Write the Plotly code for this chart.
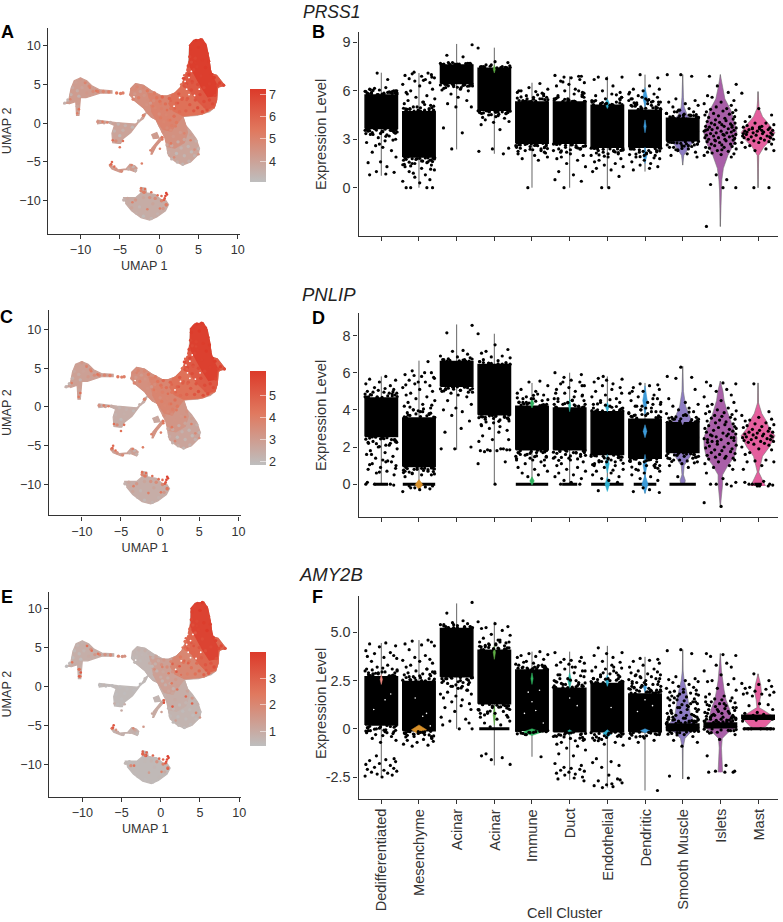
import plotly.graph_objects as go

FONT = "Liberation Sans"
TXT = "#333333"
W, H = 783, 922

CLUSTERS = ["Dedifferentiated", "Mesenchyme", "Acinar", "Acinar", "Immune", "Duct",
            "Endothelial", "Dendritic", "Smooth Muscle", "Islets", "Mast"]
CLUSTER_COLORS = ["#F08A80", "#D8912A", "#A9A531", "#5FAE45", "#2FB35F", "#2BB5A0",
                  "#2FB0D0", "#3D9BD9", "#8D7CC3", "#A95FA8", "#E55F9E"]
JITTER = [0.12, -0.31, 0.38, -0.05, -0.41, 0.24, -0.18, 0.33, -0.37, 0.07, 0.41, -0.26, 0.17,
          -0.11, 0.29, -0.43, 0.02, 0.36, -0.22, -0.34, 0.21, -0.08, 0.42, -0.29, 0.1, -0.39,
          0.31, -0.15, 0.04, 0.27, -0.24, 0.39, -0.02, -0.35, 0.15, -0.13, 0.34]

# ---- UMAP regions (UMAP 1, UMAP 2 outlines)
MASS_X = [3.8, 4.4, 5.5, 6.0, 6.3, 6.5, 6.6, 7.3, 7.8, 8.3, 7.6, 7.4, 7.3, 7.0, 6.4, 5.5, 4.8, 3.0, 3.4, 4.0, 4.7, 5.1, 5.0, 4.0, 3.0, 2.0, 1.2, 1.0, 0.9, 0.5, 0.0, -0.4, -1.0, -1.5, -2.0, -3.2, -3.7, -3.6, -3.0, -2.0, -1.0, 0.3, 1.0, 2.0, 2.7, 3.0, 3.3, 3.6]
MASS_Y = [10.0, 10.7, 10.85, 10.0, 8.5, 7.0, 6.4, 6.2, 5.6, 4.9, 4.7, 4.5, 3.0, 2.0, 1.5, 1.2, 1.0, 0.9, -0.3, -1.0, -2.0, -3.2, -4.0, -5.0, -5.4, -4.9, -4.2, -3.3, -2.0, -1.0, -0.4, 0.5, 0.8, 1.3, 2.0, 3.0, 3.6, 4.5, 5.1, 4.9, 4.2, 3.5, 3.5, 3.9, 4.6, 5.3, 6.0, 7.0]
ARM_X = [-3.7, -3.6, -3.0, -2.0, -1.0, 0.3, 1.0, 1.0, -0.4, -1.0, -1.5, -2.0, -3.2]
ARM_Y = [3.6, 4.5, 5.1, 4.9, 4.2, 3.5, 3.5, 1.0, 0.5, 0.8, 1.3, 2.0, 3.0]
LOWMID_X = [-1.0, -0.4, 0.2, 0.7, 1.0, 2.0, 3.2, 3.6, 3.4, 3.0, 1.5]
LOWMID_Y = [0.8, 0.5, -0.8, -1.8, -3.0, -3.2, -2.5, -1.2, -0.3, 0.9, 1.5]
CENTER_X = [-1.5, 0.3, 1.0, 2.0, 2.7, 3.0, 7.0, 7.3, 7.0, 5.5, 3.0, 2.5, 1.5, 0.5, -0.4, -1.0]
CENTER_Y = [3.9, 3.5, 3.5, 3.9, 4.6, 5.3, 5.0, 3.0, 2.0, 1.2, 0.9, 0.3, -1.0, -0.8, 0.5, 1.6]
RIGHT_X = [1.5, 2.0, 2.7, 3.0, 3.3, 7.0, 7.4, 7.3, 7.0, 5.5, 3.0, 1.8, 1.2]
RIGHT_Y = [3.6, 3.9, 4.6, 5.3, 6.0, 6.0, 4.5, 3.0, 2.0, 1.2, 1.0, 1.6, 2.6]
SHOULDER_X = [3.0, 3.3, 3.6, 3.8, 5.0, 6.3, 6.5, 6.6, 7.3, 7.8, 8.3, 7.6, 7.4, 7.3, 7.0, 6.0, 5.0, 4.0]
SHOULDER_Y = [4.8, 6.0, 7.0, 8.0, 8.5, 8.5, 7.0, 6.4, 6.2, 5.6, 4.9, 4.7, 4.5, 3.0, 2.1, 1.8, 2.8, 4.0]
TOP_X = [3.8, 4.4, 5.5, 6.0, 6.3, 6.5, 6.8, 7.3, 7.2, 6.2, 5.3, 4.6, 3.9, 3.8]
TOP_Y = [10.0, 10.7, 10.85, 10.0, 8.5, 7.0, 6.0, 5.0, 3.6, 3.4, 4.8, 6.2, 7.4, 8.0]
UPLEFT_X = [-12.2, -11.5, -11.2, -10.8, -10.0, -9.2, -8.5, -7.5, -6.0, -6.0, -7.5, -8.5, -9.3, -10.0, -10.1, -10.2, -10.5, -10.6, -11.5]
UPLEFT_Y = [2.5, 2.9, 4.5, 5.5, 5.85, 5.5, 4.8, 4.3, 4.2, 3.9, 3.9, 3.6, 3.3, 3.3, 2.5, 1.0, 1.0, 2.8, 2.5]
BRIDGE_X = [-7.9, -5.5, -3.0, -2.0, -1.6, -1.9, -2.7, -3.6, -4.6, -4.9, -5.2, -5.9, -6.0, -5.7, -6.5, -7.9]
BRIDGE_Y = [0.4, 0.1, -0.1, 0.6, 1.4, 1.2, 0.0, -1.2, -2.0, -2.6, -2.6, -2.5, -1.3, -0.3, 0.1, -0.1]
ISLAND_X = [-6.3, -6.0, -5.0, -4.5, -3.8, -3.0, -2.8, -3.1, -3.7, -4.2, -5.2, -5.9, -6.1]
ISLAND_Y = [-5.5, -5.9, -6.3, -6.0, -6.0, -6.3, -5.8, -5.5, -5.3, -5.9, -6.0, -5.7, -5.2]
STRAND_X = [-1.1, -0.9, -0.4, 0.5, 0.3, -0.5, -1.0]
STRAND_Y = [-4.0, -4.0, -3.0, -1.9, -1.7, -2.6, -3.3]
NUB_X = [-1.0, -0.3, 0.0, -0.8]
NUB_Y = [-1.5, -1.2, -1.9, -2.0]
BOTTOM_X = [-4.6, -3.0, -2.3, -2.3, -1.7, -1.6, -0.5, 0.3, 0.8, 1.2, 0.8, -0.3, -1.2, -2.3, -3.5, -4.3]
BOTTOM_Y = [-9.6, -9.6, -9.0, -8.3, -8.4, -9.0, -9.2, -9.9, -9.9, -10.5, -11.3, -12.1, -12.5, -12.2, -11.3, -10.3]

REGIONS_X = [MASS_X, UPLEFT_X, BRIDGE_X, ISLAND_X, STRAND_X, NUB_X, BOTTOM_X, ARM_X, LOWMID_X, CENTER_X, RIGHT_X, SHOULDER_X, TOP_X]
REGIONS_Y = [MASS_Y, UPLEFT_Y, BRIDGE_Y, ISLAND_Y, STRAND_Y, NUB_Y, BOTTOM_Y, ARM_Y, LOWMID_Y, CENTER_Y, RIGHT_Y, SHOULDER_Y, TOP_Y]
LEVELS_PRSS1 = [3.9, 4.2, 3.95, 4.2, 4.5, 4.2, 3.65, 4.6, 4.55, 5.0, 5.6, 6.3, 7.1]
LEVELS_PNLIP = [2.7, 2.85, 2.4, 2.85, 3.3, 2.6, 2.4, 3.4, 3.2, 3.75, 4.4, 5.1, 5.9]
LEVELS_AMY2B = [0.75, 0.9, 0.6, 0.85, 1.0, 0.7, 0.6, 0.7, 0.9, 1.3, 2.0, 2.9, 3.75]

SPECK_X = [0.9, 1.0, 0.8, 0.7, 0.6, 0.3, -0.2, -1.0, -1.8, -2.3, -2.0, -3.4, -1.5, 0.1, 0.9, 2.4, 3.0, 1.5, 2.0, 2.6, 3.5, 4.2, 1.0, 0.2, -0.8, 1.4, 2.1, 3.2, 4.0, 4.5, 5.0, 5.8, 3.4, 3.9, 4.6, 3.2, 2.8, -6.0, -6.1, -5.7, -3.5, -5.0, -4.6, -7.2, -6.6, -5.9, -10.4, -10.2, -9.4, -8.8, -8.0, -11.3, -2.2, -1.1, 0.4, -3.0, 1.5, 1.9, 0.4, 0.1]
SPECK_Y = [-9.0, -9.2, -9.4, -9.7, -9.9, -9.4, -9.3, -8.9, -8.5, -8.4, -8.9, -10.2, -11.1, -11.0, -10.6, 2.6, 3.3, 2.9, 1.9, 1.5, 3.0, 5.2, 1.7, 2.5, 2.2, 0.4, -0.4, -1.3, -2.2, -3.4, -4.0, 2.1, 4.9, 5.6, 7.8, 6.2, 5.0, -5.0, -5.3, -5.6, -5.4, -3.1, -2.3, 0.2, 0.1, -2.2, 1.3, 1.8, 5.2, 4.6, 4.2, 3.1, -5.2, -3.5, -2.1, 4.4, -2.6, -4.4, -1.8, -3.3]
SPECK_PRSS1 = [7.0, 6.9, 6.8, 6.5, 6.0, 5.8, 5.5, 5.6, 5.6, 5.4, 5.2, 5.0, 5.0, 5.2, 5.2, 6.3, 6.2, 5.9, 6.0, 5.8, 6.1, 6.6, 5.6, 5.2, 5.3, 5.4, 5.2, 5.0, 5.0, 4.6, 4.5, 6.4, 6.2, 6.5, 7.1, 6.0, 5.6, 5.8, 5.9, 5.6, 5.0, 5.5, 5.6, 5.2, 5.0, 5.6, 5.2, 5.5, 5.0, 5.0, 5.4, 5.0, 5.1, 4.9, 5.4, 4.8, 5.3, 4.7, 5.5, 5.0]
SPECK_PNLIP = [5.9, 5.8, 5.7, 5.3, 5.0, 4.7, 4.5, 4.5, 4.6, 4.4, 4.2, 4.0, 4.0, 4.2, 4.2, 5.1, 5.0, 4.8, 4.8, 4.6, 4.9, 5.3, 4.5, 4.2, 4.2, 4.3, 4.2, 4.0, 4.0, 3.6, 3.4, 5.2, 5.0, 5.2, 5.7, 4.8, 4.5, 4.7, 4.8, 4.5, 4.0, 4.4, 4.5, 4.1, 4.0, 4.5, 4.1, 4.4, 3.9, 4.0, 4.3, 4.0, 4.0, 3.9, 4.3, 3.8, 4.2, 3.7, 4.4, 3.9]
SPECK_AMY2B = [3.9, 3.8, 3.7, 3.5, 3.2, 3.0, 2.8, 2.9, 3.0, 3.0, 2.6, 2.6, 1.4, 2.2, 3.0, 3.2, 2.9, 3.0, 3.2, 2.6, 3.0, 3.4, 2.4, 2.2, 1.8, 2.4, 2.6, 2.8, 3.0, 2.2, 1.6, 3.2, 3.1, 3.2, 3.7, 2.9, 2.6, 3.2, 3.3, 1.6, 1.9, 1.0, 0.9, 0.7, 0.6, 0.9, 3.0, 3.2, 2.6, 2.6, 2.5, 2.4, 1.5, 1.1, 3.4, 0.7, 3.2, 1.3, 3.0, 1.3]

# Grain of the UMAP clouds: position and place on the colour bar (0 bottom, 1 top)
GRAIN_X = [-3.4, -3.1, -2.8, -2.4, -2.6, -2, -1.9, -1.5, -1.4, -1, -1.1, -0.6, -0.7, -0.3, -0.5, -1.6, -3.6, -3.3,
           0.1, 0.4, 0.3, 0.8, 0.9, 1.3, 1.5, 0.2, 0.6, 1.2, 1.9, 2.2, 2.5, 2.6, 2.9, 0.0, 1.0, 1.6, 2.2, 0.5,
           3.2, 3.6, 3.4, 3.9, 4.1, 4.4, 4.6, 4.9, 5.2, 5.5, 5.7, 6.1, 6.4, 6.8, 7.1, 3.1, 3.5, 3.8, 4.2, 4.4, 3.7, 4.9, 5.3, 5.7, 6.4, 7, 7.7, 8.2, 7.4, 6.7,
           4.0, 3.9, 4.3, 4.7, 5.3, 5.8, 6.1, 6.3, 5, 4.6, 5.5, 5.9, 4.8, 4.1,
           1, 1.2, 1.6, 2.3, 3, 3.8, 4.5, 5, 4.7, 4, 3.4, 2.7, 1.8, 2.4, 3.2, 1.6, 2.8, 3.7, 2.2, 3.2, 4.1, 1.5,
           -12, -11.6, -11.2, -11, -10.6, -10, -9.4, -8.9, -10.4, -9.8, -10.2, -9.2, -8.4, -7.8, -7.1, -6.4, -5.4, -4.9, -4.6, -10.3, -10.4,
           -7.8, -7, -6.2, -5.2, -4.3, -3.4, -2.6, -2, -5.7, -5, -5.5, -4.6,
           -6.2, -5.5, -4.8, -3.9, -3.3, -3,
           -4.5, -3.8, -3, -2.3, -2, -1.2, -0.5, 0.3, 0.9, 0.5, -0.2, -1, -2, -2.9, -3.5, -2.5, -1.5, -0.8, -4, -1.9]
GRAIN_Y = [4.4, 3.8, 4.7, 4.1, 3.3, 4.6, 3.6, 4.2, 3.0, 3.7, 2.6, 3.9, 2.9, 3.3, 2.0, 2.4, 3.7, 3.1,
           2.8, 3.4, 1.9, 2.5, 1.1, 3.2, 1.9, 0.7, 0.2, 0.4, 0.9, 2.6, 3.8, 1.5, 3.1, 1.2, -0.6, -0.3, 0.1, -1.1,
           4.8, 3.2, 1.6, 2.4, 4.3, 1.6, 3, 2, 3.7, 1.5, 2.8, 1.7, 3, 2.5, 3.6, 5.8, 5.1, 6.3, 5.4, 6.9, 7.4, 5, 6.1, 4.6, 5.1, 5.9, 5.2, 4.9, 4.9, 6.3,
           9.6, 8.6, 10.3, 10.7, 10.8, 10.2, 9, 8, 9.8, 8.4, 8.2, 7.2, 7.3, 7.9,
           -2.8, -3.8, -4.6, -5, -5.3, -4.9, -4.2, -3.3, -2.3, -1.5, -0.6, -1.2, -1.7, -2.4, -2.1, -2.9, -3.2, -3, -3.9, -4.2, -3.7, -0.9,
           2.6, 3, 3.7, 4.6, 5.3, 5.7, 5.3, 4.8, 4.2, 4.6, 3.5, 3.9, 4.1, 4.1, 4.1, 4.05, 3.9, 3.85, 3.9, 1.3, 2.2,
           0.2, 0.05, 0.1, -0.1, -0.3, -0.5, 0.3, 1, -1, -1.6, -2.3, -0.9,
           -5.4, -5.9, -6.2, -5.9, -5.6, -6.1,
           -9.9, -10.2, -9.9, -8.7, -9.6, -9.6, -9.7, -10, -10.5, -11, -11.7, -12.3, -12, -11.6, -10.9, -10.8, -11, -10.4, -9.7, -8.9]
GRAIN_T = [0.4, 0.3, 0.45, 0.28, 0.5, 0.42, 0.33, 0.55, 0.38, 0.48, 0.3, 0.52, 0.4, 0.58, 0.45, 0.35, 0.38, 0.46,
           0.6, 0.68, 0.5, 0.62, 0.45, 0.7, 0.58, 0.52, 0.45, 0.5, 0.62, 0.7, 0.78, 0.65, 0.75, 0.4, 0.42, 0.5, 0.55, 0.38,
           0.82, 0.75, 0.72, 0.78, 0.86, 0.8, 0.82, 0.85, 0.9, 0.86, 0.88, 0.86, 0.9, 0.88, 0.92, 0.9, 0.85, 0.92, 0.88, 0.92, 0.9, 0.88, 0.95, 0.9, 0.95, 0.98, 0.95, 0.9, 0.92, 0.97,
           0.98, 0.92, 0.97, 1, 0.98, 0.97, 0.96, 0.98, 1, 0.93, 0.98, 1, 0.95, 0.9,
           0.2, 0.15, 0.1, 0.12, 0.08, 0.1, 0.1, 0.08, 0.12, 0.25, 0.35, 0.3, 0.32, 0.15, 0.2, 0.18, 0.1, 0.08, 0.05, 0.08, 0.05, 0.4,
           0.1, 0.08, 0.12, 0.18, 0.25, 0.3, 0.35, 0.42, 0.15, 0.22, 0.1, 0.3, 0.4, 0.5, 0.45, 0.5, 0.55, 0.5, 0.5, 0.15, 0.2,
           0.35, 0.25, 0.15, 0.08, 0.1, 0.05, 0.12, 0.45, 0.1, 0.05, 0.4, 0.12,
           0.45, 0.35, 0.4, 0.15, 0.1, 0.12,
           0.1, 0.15, 0.3, 0.45, 0.2, 0.35, 0.4, 0.45, 0.55, 0.3, 0.1, 0.08, 0.05, 0.12, 0.2, 0.08, 0.15, 0.2, 0.18, 0.5]
GRAIN_T_AMY2B = [0.08, 0.05, 0.1, 0.06, 0.05, 0.12, 0.07, 0.1, 0.15, 0.1, 0.05, 0.2, 0.12, 0.16, 0.1, 0.07, 0.04, 0.05,
                 0.35, 0.3, 0.2, 0.4, 0.15, 0.45, 0.35, 0.1, 0.12, 0.15, 0.3, 0.5, 0.55, 0.35, 0.6, 0.15, 0.18, 0.1, 0.25, 0.1,
                 0.6, 0.55, 0.5, 0.6, 0.7, 0.6, 0.65, 0.65, 0.75, 0.7, 0.8, 0.75, 0.8, 0.85, 0.85, 0.6, 0.62, 0.7, 0.72, 0.8, 0.72, 0.8, 0.88, 0.85, 0.9, 0.95, 0.9, 0.85, 0.9, 0.95,
                 0.95, 0.9, 0.92, 0.95, 1, 0.95, 0.92, 0.96, 1, 0.9, 0.98, 1, 0.92, 0.85,
                 0.08, 0.05, 0.04, 0.05, 0.03, 0.04, 0.04, 0.03, 0.1, 0.3, 0.2, 0.12, 0.15, 0.05, 0.08, 0.06, 0.03, 0.05, 0.03, 0.04, 0.03, 0.2,
                 0.02, 0.03, 0.04, 0.05, 0.08, 0.1, 0.2, 0.35, 0.04, 0.08, 0.03, 0.15, 0.3, 0.4, 0.35, 0.4, 0.45, 0.35, 0.35, 0.5, 0.6,
                 0.02, 0.02, 0.02, 0.02, 0.02, 0.02, 0.02, 0.05, 0.02, 0.02, 0.02, 0.02,
                 0.55, 0.15, 0.1, 0.1, 0.2, 0.05,
                 0.05, 0.4, 0.03, 0.7, 0.05, 0.08, 0.35, 0.5, 0.6, 0.15, 0.05, 0.03, 0.03, 0.04, 0.05, 0.04, 0.04, 0.06, 0.03, 0.8]
GAP_X = [3.4, 3.8, 4.1, 3.3, 4.5, 3.8, 2.6, 5.1, -3.2, 3.5, 1.9]
GAP_Y = [6.7, 5.9, 6.7, 5.4, 3.6, 3.7, 3.3, 4.4, 3.4, 4.4, 2.2]

SCALE_STOPS = ["#BEBEBE", "#E0795F", "#DC3A2A"]
PRSS1_RANGE = [3.07, 7.24]
PNLIP_RANGE = [1.85, 6.1]
AMY2B_RANGE = [0.47, 3.99]
PRSS1_TICKS = [4, 5, 6, 7]
PNLIP_TICKS = [2, 3, 4, 5]
AMY2B_TICKS = [1, 2, 3]

# ---- Violin panels: dense body limits, line limits, stray points
PRSS1_LO = [3.67, 1.9, 6.45, 4.8, 2.75, 2.75, 2.5, 2.5, 2.9, None, None]
PRSS1_HI = [5.74, 4.7, 7.6, 7.4, 5.3, 5.3, 5.1, 4.8, 4.3, None, None]
PRSS1_VMIN = [0.74, 0.0, 2.37, 2.1, 0.0, 0.0, 0.0, 1.0, 1.4, -2.4, 0.0]
PRSS1_VMAX = [7.12, 7.1, 8.9, 8.67, 6.5, 6.9, 6.9, 7.0, 7.0, 7.0, 5.95]
PNLIP_LO = [2.57, 0.95, 5.27, 3.74, 1.85, 1.85, 1.6, 1.4, 1.7, None, None]
PNLIP_HI = [4.64, 3.56, 6.6, 6.44, 4.2, 4.1, 3.9, 3.5, 3.3, None, None]
PNLIP_VMIN = [0.0, -0.2, 1.85, 0.0, 0.0, 0.0, -0.3, -0.5, 0.0, -1.25, -0.1]
PNLIP_VMAX = [5.8, 6.65, 8.6, 8.1, 5.45, 6.0, 5.8, 5.45, 6.35, 5.55, 5.45]
AMY2B_LO = [0.2, -0.1, 2.7, 1.3, -0.07, -0.15, -0.15, -0.15, -0.1, 0.05, 0.5]
AMY2B_HI = [2.7, 2.45, 5.2, 4.07, 3.05, 2.1, 2.35, 1.8, 0.25, 0.3, 0.7]
AMY2B_VMIN = [-2.5, -0.3, 0.0, -1.9, -1.45, -2.66, -3.05, -3.2, -2.6, -2.25, 0.0]
AMY2B_VMAX = [4.45, 4.6, 6.5, 5.55, 4.0, 4.0, 4.3, 3.73, 4.1, 3.9, 2.85]
NO_ZERO = [0] * 11
PNLIP_ZERO = [0.18, 0.43, 0, 0, 0.43, 0.2, 0.43, 0.3, 0.35, 0, 0.1]
AMY2B_ZERO = [0, 0, 0, 0.4, 0, 0, 0, 0, 0, 0, 0.38]

PRSS1_SM_Y = [1.4, 2, 2.6, 3, 3.5, 4, 4.5, 5, 5.6, 7]
PRSS1_SM_W = [0, 0.03, 0.2, 0.35, 0.43, 0.3, 0.12, 0.04, 0.02, 0]
PRSS1_IS_Y = [-2.4, -1, -0.2, 0.5, 1.2, 2, 2.8, 3.4, 4, 4.8, 5.5, 6.3, 7]
PRSS1_IS_W = [0, 0.01, 0.02, 0.04, 0.08, 0.2, 0.38, 0.44, 0.38, 0.28, 0.12, 0.05, 0]
PRSS1_MA_Y = [0, 0.5, 1.2, 2, 2.5, 3, 3.4, 3.9, 4.4, 4.9, 5.4, 5.95]
PRSS1_MA_W = [0, 0.01, 0.01, 0.02, 0.15, 0.35, 0.45, 0.3, 0.12, 0.03, 0.01, 0]
PNLIP_SM_Y = [0, 0.2, 0.5, 1, 1.5, 2, 2.5, 3, 3.6, 4.2, 5, 6.35]
PNLIP_SM_W = [0.05, 0.07, 0.02, 0.04, 0.2, 0.35, 0.43, 0.38, 0.2, 0.08, 0.02, 0]
PNLIP_IS_Y = [-1.25, -0.5, 0, 0.5, 1, 1.5, 2, 2.5, 3, 3.5, 4, 4.5, 5, 5.55]
PNLIP_IS_W = [0, 0.03, 0.06, 0.06, 0.2, 0.38, 0.43, 0.44, 0.35, 0.25, 0.17, 0.1, 0.07, 0]
PNLIP_MA_Y = [-0.1, 0, 0.3, 0.65, 1, 1.5, 2, 2.6, 3, 3.4, 3.8, 4.4, 5.45]
PNLIP_MA_W = [0.2, 0.18, 0.1, 0.02, 0.06, 0.12, 0.3, 0.45, 0.3, 0.22, 0.1, 0.01, 0]
AMY2B_SM_Y = [-2.6, -1, -0.5, -0.2, 0.05, 0.4, 0.8, 1.3, 2, 2.5, 3, 4.1]
AMY2B_SM_W = [0, 0.01, 0.06, 0.2, 0.45, 0.3, 0.2, 0.16, 0.1, 0.04, 0.01, 0]
AMY2B_IS_Y = [-2.25, -1, -0.5, -0.2, 0.1, 0.5, 1, 1.5, 2, 2.5, 3, 3.9]
AMY2B_IS_W = [0.06, 0.03, 0.05, 0.2, 0.45, 0.3, 0.25, 0.15, 0.1, 0.06, 0.03, 0]
AMY2B_MA_Y = [0, 0.1, 0.3, 0.6, 0.9, 1.1, 1.5, 1.9, 2.3, 2.85]
AMY2B_MA_W = [0.02, 0.2, 0.3, 0.43, 0.2, 0.03, 0.05, 0.09, 0.07, 0]

# Coloured slivers of the violins that show through the black points
PRSS1_ACC_C = [3, 6, 7, 7, 7]
PRSS1_ACC_LO = [7.1, 4.9, 5.0, 1.5, 3.4]
PRSS1_ACC_HI = [7.6, 5.5, 6.2, 2.5, 4.2]
PRSS1_ACC_W = [0.03, 0.06, 0.06, 0.05, 0.03]
PNLIP_ACC_C = [1, 4, 4, 5, 6, 6, 6, 7, 7, 7, 7, 8]
PNLIP_ACC_LO = [-0.3, 4.1, -0.05, 3.9, 3.9, 0.6, -0.4, 3.7, 2.5, 0.4, -0.5, 3.2]
PNLIP_ACC_HI = [0.25, 4.6, 0.4, 4.6, 4.4, 1.6, 0.4, 5.3, 3.2, 1.6, 0.5, 4.2]
PNLIP_ACC_W = [0.1, 0.05, 0.06, 0.03, 0.05, 0.05, 0.06, 0.06, 0.05, 0.05, 0.08, 0.1]
AMY2B_ACC_C = [0, 1, 3, 3, 4, 4, 5, 5, 6, 6, 7, 7]
AMY2B_ACC_LO = [2.3, -0.3, 3.6, 0.2, 2.3, -0.35, 2.1, -0.3, 2.2, -0.45, 1.9, -0.2]
AMY2B_ACC_HI = [2.8, 0.2, 4.3, 1.2, 2.9, 0.0, 2.9, -0.05, 2.8, -0.05, 2.4, 0.0]
AMY2B_ACC_W = [0.03, 0.2, 0.03, 0.03, 0.03, 0.25, 0.05, 0.1, 0.05, 0.12, 0.04, 0.12]

AMY2B_GAP_C = [0.1, 0.25, -0.2, 1.2, 1.1, 0.9, 1.3, 3.9, 4.2, 4.0, 3.8, 4.3, 4.1, 5.2, 5.0, 6.1, 7.0, 7.2, 6.8]
AMY2B_GAP_V = [1.5, 1.8, 1.0, 0.8, 0.65, 1.6, 0.15, 1.9, 2.0, 1.4, 0.8, 0.3, 0.95, 1.2, 1.6, 1.1, 1.5, 1.2, 0.9]

PRSS1_PTS = [
    [6.2, 6.1, 6.0, 6.05, 5.95, 5.9, 6.15, 6.0, 5.85, 5.8, 6.0, 5.9, 6.7, 7.1, 5.95, 3.55, 3.5, 3.4, 3.3, 3.6, 3.2, 3.1, 3.45, 3.3, 2.9, 2.8, 2.95, 2.6, 2.5, 2.3, 2.2, 1.9, 1.6, 1.55, 1.3, 1.0, 0.95, 0.85, 0.8, 3.0, 2.7, 3.35, 3.55, 3.65, 3.6, 5.8, 5.85, 5.78, 5.82, 5.9, 5.76, 5.84, 5.97, 5.79, 5.88, 6.02, 5.81, 5.93, 5.77, 5.86, 6.08, 3.62, 3.58, 3.52, 3.63, 3.47, 3.55, 3.41, 3.6, 3.36, 3.5, 3.28, 3.57, 3.44, 3.18, 3.53, 3.38],
    [7.1, 7.05, 7.0, 6.95, 6.9, 6.8, 6.75, 6.7, 6.6, 6.5, 6.4, 6.3, 6.1, 6.0, 5.9, 5.7, 5.6, 5.5, 5.4, 5.3, 5.2, 5.1, 5.0, 4.95, 4.9, 4.85, 4.8, 4.8, 4.75, 4.8, 7.15, 6.85, 6.65, 5.8, 1.85, 1.8, 1.7, 1.6, 1.5, 1.4, 1.3, 1.2, 1.1, 1.0, 0.8, 0.65, 0.5, 0.4, 0.3, 0.0, 0.0, 0.0, 0.0, 1.75, 1.85, 1.9, 1.65, 1.45, 1.15, 0.9, 4.75, 4.82, 4.9, 5.05, 4.78, 4.88, 5.15, 4.74, 4.95, 5.3, 4.85, 4.76, 5.0, 4.92, 1.85, 1.8, 1.72, 1.86, 1.66, 1.78, 1.58, 1.84, 1.5, 1.7, 1.42, 1.82, 1.62, 1.35, 1.76, 1.55],
    [8.85, 8.2, 8.1, 7.75, 7.7, 7.7, 7.65, 7.7, 7.75, 7.65, 6.4, 6.35, 6.3, 6.2, 6.1, 6.05, 6.0, 5.8, 5.6, 5.4, 5.2, 5.0, 5.0, 3.7, 3.4, 2.4, 6.3, 6.2, 6.4, 7.63, 7.66, 7.62, 7.68, 7.64, 7.7, 7.62, 7.65, 6.42, 6.38, 6.33, 6.4, 6.28, 6.36, 6.22, 6.41, 6.31, 6.15, 6.37, 6.26],
    [8.65, 7.8, 7.75, 7.6, 7.5, 7.5, 7.6, 7.45, 7.5, 4.7, 4.65, 4.6, 4.5, 4.4, 4.3, 4.2, 4.1, 4.05, 3.9, 3.6, 4.7, 4.65, 4.55, 4.35, 2.45, 2.4, 2.25, 2.1, 4.75, 7.44, 7.48, 7.42, 7.55, 7.46, 7.43, 7.52, 7.45, 4.76, 4.72, 4.66, 4.77, 4.6, 4.7, 4.52, 4.74, 4.63, 4.46, 4.69, 4.58, 4.75, 4.67],
    [6.45, 6.2, 6.1, 6.0, 5.95, 5.9, 5.8, 5.7, 5.6, 5.5, 5.4, 5.3, 5.35, 6.0, 5.75, 5.5, 5.45, 2.7, 2.65, 2.6, 2.55, 2.5, 2.4, 2.3, 2.2, 2.1, 2.0, 1.9, 1.8, 1.7, 0.0, 2.75, 2.6, 2.35, 2.15, 5.34, 5.4, 5.5, 5.33, 5.45, 5.62, 5.36, 5.55, 5.7, 5.38, 5.48, 5.85, 5.35, 5.6, 2.71, 2.66, 2.6, 2.72, 2.52, 2.63, 2.45, 2.7, 2.38, 2.58, 2.3, 2.68, 2.48, 2.25, 2.62, 2.42],
    [6.95, 6.9, 6.85, 6.8, 6.7, 6.6, 6.5, 6.4, 6.3, 6.1, 6, 5.9, 5.8, 5.7, 5.6, 5.5, 5.4, 6.9, 6.55, 5.75, 5.5, 5.35, 5.35, 2.7, 2.6, 2.5, 2.4, 2.3, 2.1, 2, 1.9, 1.8, 1.7, 1.5, 1.3, 1.0, 0.8, 0.5, 0.4, 0, 2.65, 2.4, 2.2, 5.34, 5.42, 5.55, 5.33, 5.47, 5.7, 5.36, 5.6, 5.85, 5.38, 5.5, 6.0, 5.35, 5.65, 2.71, 2.66, 2.58, 2.72, 2.5, 2.63, 2.42, 2.7, 2.35, 2.56, 2.28, 2.68, 2.46, 2.2, 2.6, 2.4],
    [6.85, 6.85, 6.75, 6.7, 6.3, 6.0, 5.9, 5.8, 5.7, 5.6, 5.5, 5.4, 5.3, 5.2, 5.25, 5.15, 5.1, 2.45, 2.4, 2.3, 2.2, 2.1, 2, 1.9, 1.8, 1.7, 1.6, 1.5, 1.4, 1.3, 1.2, 1.1, 1.0, 0.7, 0, 0, 2.4, 2.3, 5.14, 5.22, 5.35, 5.13, 5.27, 5.45, 5.16, 5.4, 5.6, 5.18, 5.3, 5.75, 5.15, 5.5, 2.46, 2.41, 2.33, 2.47, 2.25, 2.38, 2.17, 2.45, 2.1, 2.31, 2.03, 2.43, 2.21, 1.95, 2.35, 2.15],
    [7, 6.8, 6.3, 6.1, 6.1, 6, 5.9, 5.8, 5.7, 5.6, 5.5, 5.4, 5.3, 5.2, 5.1, 5, 4.9, 5.8, 5.5, 5.3, 5.15, 5.05, 4.95, 4.9, 4.85, 5.25, 5.45, 2.4, 2.3, 2.2, 2.1, 2, 1.9, 1.8, 1.7, 1.6, 1.5, 1.4, 1.3, 1.2, 1.1, 2.45, 2.25, 2.05, 1.85, 4.85, 4.95, 5.1, 5.2, 4.9, 5.05, 5.3, 4.88, 5.0, 5.4, 4.92, 5.15, 5.25, 5.5, 5.35, 5.6, 2.45, 2.38, 2.3, 2.46, 2.22, 2.35, 2.15, 2.42, 2.08, 2.28, 2.0, 2.4, 2.18, 1.92],
    [7, 7, 6.9, 5.5, 5.4, 5.3, 5.2, 5.1, 5, 4.9, 4.8, 4.7, 4.6, 4.5, 4.4, 4.3, 4.2, 4.5, 4.45, 4.35, 4.3, 4.25, 4.2, 4.15, 4.7, 4.55, 2.9, 2.8, 2.7, 2.6, 2.5, 2.4, 2.3, 2.2, 2.1, 2, 1.9, 2.75, 2.65, 2.55, 2.35, 3.0, 2.95, 2.85, 4.35, 4.42, 4.5, 4.33, 4.47, 4.6, 4.36, 4.52, 4.7, 4.38, 4.45, 4.8, 2.86, 2.8, 2.72, 2.87, 2.65, 2.77, 2.58, 2.84, 2.5, 2.7, 2.43, 2.82, 2.6, 2.35],
    [-2.4, 0, 0, 0.2, 0.5, 0.8, 1.9, 2, 2.05, 2.1, 2.15, 2.2, 2.25, 2.3, 2.4, 2.45, 2.5, 2.5, 2.55, 2.6, 2.65, 2.7, 2.7, 2.75, 2.8, 2.85, 2.9, 2.9, 2.95, 3, 3, 3.05, 3.1, 3.1, 3.15, 3.2, 3.2, 3.25, 3.3, 3.3, 3.35, 3.4, 3.4, 3.45, 3.5, 3.5, 3.55, 3.6, 3.6, 3.65, 3.7, 3.7, 3.75, 3.8, 3.8, 3.85, 3.9, 3.9, 3.95, 4, 4, 4.05, 4.1, 4.15, 4.2, 4.25, 4.3, 4.35, 4.4, 4.45, 4.5, 4.55, 4.6, 4.65, 4.7, 4.75, 4.8, 4.85, 4.9, 5, 5.1, 5.2, 5.3, 5.4, 5.6, 5.7, 5.9, 6.3, 6.4, 6.9, 3.25, 3.55, 3.75, 2.95, 2.35],
    [0, 0, 5.85, 4.9, 4.5, 4.4, 4.1, 4.0, 4.0, 3.9, 3.85, 3.8, 3.75, 3.7, 3.7, 3.65, 3.6, 3.6, 3.55, 3.5, 3.5, 3.45, 3.4, 3.4, 3.35, 3.3, 3.3, 3.25, 3.2, 3.2, 3.15, 3.1, 3.1, 3.05, 3, 3, 2.95, 2.9, 2.85, 2.8, 2.8, 2.7, 2.6, 2.5, 2.4, 2.3, 2.3, 3.45, 3.55, 3.35, 3.15, 3.65, 3.75],
]
PNLIP_PTS = [
    [5.8, 5.65, 5.6, 5.5, 5.4, 5.3, 5.2, 5.1, 5, 4.95, 4.9, 4.8, 4.75, 4.7, 4.85, 4.7, 2.5, 2.4, 2.3, 2.2, 2.1, 2, 1.9, 1.8, 1.7, 1.6, 1.5, 1.4, 1.3, 1.2, 1.1, 1, 0.9, 0.8, 0.7, 0.6, 0.5, 1.2, 1.05, 0.85, 0.65, 0, 0, 0, -0.05, 0.1, 2.45, 2.25, 1.6, 1.25, 4.68, 4.75, 4.85, 4.67, 4.8, 4.95, 4.7, 4.9, 5.05, 4.72, 4.82, 5.15, 4.69, 4.98, 2.53, 2.47, 2.4, 2.54, 2.32, 2.44, 2.25, 2.5, 2.18, 2.38, 2.1, 2.48, 2.28, 2.02, 2.42, 2.2],
    [6.6, 6.1, 6, 5.9, 5.8, 5.7, 5.6, 5.5, 5.4, 5.3, 5.2, 5.1, 5, 4.9, 4.8, 4.7, 4.6, 4.5, 4.4, 4.3, 4.2, 4.1, 4, 3.9, 3.8, 3.7, 5.75, 5.5, 5.35, 6, 5.85, 4.25, 4.05, 3.85, 0.85, 0.8, 0.75, 0.7, 0.6, 0.5, 0.4, 0.85, 0.55, -0.1, -0.15, -0.2, -0.25, -0.4, -0.3, -0.1, -0.2, 3.6, 3.68, 3.78, 3.59, 3.72, 3.9, 3.62, 3.82, 4, 3.64, 3.75, 4.15, 3.61, 3.95, 0.9, 0.86, 0.8, 0.91, 0.74, 0.84, 0.68, 0.88, 0.62, 0.78, 0.56, 0.87, 0.7, 0.5, 0.82, 0.65],
    [8.55, 8.15, 7.2, 7.15, 7, 6.9, 6.85, 6.8, 6.75, 6.7, 6.7, 5.2, 5.15, 5.1, 5.05, 5, 4.95, 4.9, 4.8, 4.7, 4.5, 4.3, 4.1, 4, 3.9, 3.7, 3.4, 3, 2.8, 2, 1.9, 1.9, 6.63, 6.66, 6.62, 6.7, 6.64, 6.74, 6.62, 6.68, 5.23, 5.19, 5.13, 5.24, 5.08, 5.17, 5.02, 5.22, 5.11, 4.95, 5.15, 5.05],
    [8.1, 7.5, 7.25, 7.15, 7.05, 6.9, 6.85, 6.8, 6.7, 6.65, 6.6, 6.55, 6.5, 3.65, 3.6, 3.5, 3.4, 3.3, 3.2, 3.1, 3, 2.9, 2.8, 2.6, 2.4, 2.4, 2.3, 1.9, 1.85, 1.85, 1.8, 1.8, 1.85, 1.75, 1.9, 1.8, 1.2, 1.1, 0, 3.55, 3.35, 3.15, 6.47, 6.5, 6.46, 6.55, 6.48, 6.6, 6.47, 6.52, 3.7, 3.66, 3.6, 3.71, 3.54, 3.64, 3.46, 3.68, 3.56, 3.38, 3.62, 3.5, 3.69, 3.58],
    [5.55, 5.5, 5.3, 5.1, 5, 4.9, 4.8, 4.7, 4.6, 4.5, 4.4, 4.3, 4.6, 4.4, 4.85, 4.3, 1.8, 1.7, 1.6, 1.5, 1.4, 1.3, 1.2, 1.1, 1, 0.9, 0.8, 0.7, 0.6, 0.5, 0.4, 1.7, 1.5, 1.3, 4.24, 4.32, 4.42, 4.23, 4.37, 4.55, 4.26, 4.47, 4.65, 4.28, 4.4, 4.78, 4.25, 4.6, 1.81, 1.76, 1.68, 1.82, 1.6, 1.73, 1.52, 1.8, 1.45, 1.66, 1.38, 1.78, 1.56, 1.3, 1.7, 1.48],
    [6, 5.9, 5.75, 5.6, 5.5, 5.4, 5.3, 5.2, 5.1, 5, 4.9, 4.8, 4.7, 4.6, 4.5, 4.4, 4.3, 4.2, 5.5, 5.3, 4.9, 4.5, 4.3, 1.8, 1.7, 1.6, 1.5, 1.4, 1.3, 1.2, 1.1, 1, 0.9, 0.8, 0.7, 0.6, 0.5, 0.4, 0.3, 0.2, 0.1, 0, 0, 1.7, 1.4, 4.14, 4.22, 4.34, 4.13, 4.27, 4.45, 4.16, 4.38, 4.6, 4.18, 4.3, 4.75, 4.15, 4.52, 1.81, 1.76, 1.68, 1.82, 1.6, 1.72, 1.52, 1.79, 1.44, 1.66, 1.36, 1.77, 1.55, 1.28, 1.7, 1.46],
    [5.7, 5.65, 5.6, 5.5, 5.4, 5.3, 5.2, 5.1, 5, 4.9, 4.8, 4.7, 4.6, 4.5, 4.4, 4.3, 4.2, 4.1, 4, 3.95, 5.8, 1.55, 1.5, 1.4, 1.3, 1.2, 1.1, 1, 0.9, 0.8, 0.7, 0.6, 0.5, 0.4, 0.3, 0.2, 0.1, -0.35, 1.45, 1.2, 1.0, 0.75, 3.94, 4.02, 4.14, 3.93, 4.07, 4.25, 3.96, 4.18, 4.4, 3.98, 4.1, 4.55, 3.95, 4.32, 1.56, 1.5, 1.43, 1.57, 1.35, 1.47, 1.27, 1.54, 1.2, 1.41, 1.12, 1.52, 1.3, 1.05, 1.44, 1.22],
    [5.4, 5.35, 5.3, 5.2, 5.1, 5, 4.9, 4.8, 4.7, 4.6, 4.5, 4.4, 4.3, 4.2, 4.1, 4, 3.9, 3.8, 3.7, 3.6, 3.55, 5.0, 4.6, 4.2, 3.9, 3.7, 1.35, 1.3, 1.2, 1.1, 1, 0.9, 0.8, 0.7, 0.6, 0.5, 0.4, 0.3, 0.2, -0.3, -0.4, -0.45, -0.2, 1.25, 1.0, 0.75, 3.55, 3.65, 3.8, 3.6, 3.72, 3.9, 4.0, 3.58, 3.85, 4.1, 3.68, 4.2, 3.62, 4.3, 3.75, 4.4, 1.36, 1.3, 1.22, 1.37, 1.15, 1.27, 1.07, 1.34, 1, 1.2, 0.92, 1.32, 1.1, 0.85],
    [6.3, 5.8, 5.75, 5.7, 5.1, 4.6, 4.4, 4.3, 4.2, 4.1, 4, 3.9, 3.8, 3.7, 3.6, 3.5, 3.4, 3.35, 3.4, 3.5, 3.6, 3.7, 1.65, 1.6, 1.55, 1.5, 1.4, 1.3, 1.2, 1.1, 1, 0.9, 0.4, 1.45, 1.25, 3.34, 3.42, 3.52, 3.33, 3.47, 3.62, 3.36, 3.56, 3.75, 3.38, 3.5, 3.88, 1.66, 1.6, 1.53, 1.67, 1.45, 1.57, 1.37, 1.64, 1.3, 1.5, 1.22, 1.62, 1.4, 1.15],
    [5.5, 5.45, 5.4, 5.3, 5.1, 5, 4.8, 4.7, 4.5, 4.4, 4.3, 4.2, 4.1, 4, 3.95, 3.9, 3.85, 3.8, 3.75, 3.7, 3.65, 3.6, 3.55, 3.5, 3.45, 3.4, 3.35, 3.3, 3.25, 3.2, 3.15, 3.1, 3.05, 3, 2.95, 2.9, 2.85, 2.8, 2.75, 2.7, 2.65, 2.6, 2.55, 2.5, 2.45, 2.4, 2.35, 2.3, 2.25, 2.2, 2.15, 2.1, 2.05, 2, 1.95, 1.9, 1.85, 1.8, 1.75, 1.7, 1.65, 1.6, 1.55, 1.5, 1.45, 1.4, 1.4, 1.35, 1.3, 1.2, 1.1, 1, 0.9, 0.8, 0.6, 0.3, 0.1, 0, 0, 0, -0.1, -1, -1.2, 2.5, 2.6, 2.4, 2.7, 2.3, 3.0],
    [5.4, 3.9, 3.7, 3.6, 3.5, 3.45, 3.4, 3.3, 3.25, 3.2, 3.15, 3.1, 3.05, 3, 2.95, 2.9, 2.85, 2.8, 2.8, 2.75, 2.7, 2.7, 2.65, 2.6, 2.6, 2.55, 2.55, 2.5, 2.5, 2.45, 2.4, 2.4, 2.35, 2.3, 2.3, 2.25, 2.2, 2.15, 2.1, 2, 1.9, 1.85, 1.7, 1.6, 1.3, 1.25, 1.2, 1.2, 1, 0.8, 0, 0, -0.1, -0.1, 0, -0.05, -0.1, 0.1, 0.15],
]
AMY2B_PTS = [
    [4.45, 4.4, 4.3, 4.25, 4.05, 3.95, 3.9, 3.8, 3.75, 3.7, 3.65, 3.5, 3.3, 3.2, 3.1, 3, 2.95, 2.9, 2.85, 2.8, 2.75, 2.9, 3.05, -0.1, -0.15, -0.2, -0.25, -0.3, -0.35, -0.4, -0.5, -0.6, -0.7, -0.1, -0.2, -1.4, -1.55, -1.6, -1.65, -1.7, -1.8, -1.85, -1.9, -2.0, -2.05, -2.1, -2.15, -2.2, -2.25, -2.3, -2.35, -2.4, -2.45, -2.5, 2.74, 2.8, 2.9, 2.73, 2.85, 3.0, 2.76, 2.95, 3.1, 2.78, 2.88, 3.15, 2.75, 3.05, 0.16, 0.11, 0.05, 0.17, 0, 0.08, -0.05, 0.13, -0.08, 0.03, -0.12, 0.12, -0.02, -0.16, 0.06, -0.07],
    [4.6, 4.55, 4.5, 4.4, 4.35, 4.3, 4.1, 3.8, 3.7, 3.6, 3.55, 3.5, 3.4, 3.3, 3.2, 3.1, 3, 2.95, 2.9, 2.85, 2.8, 2.75, 2.7, 2.65, 2.6, 2.55, 2.5, -0.15, -0.2, -0.3, -0.4, -0.5, -0.55, -0.6, -0.65, -0.7, -0.8, -0.85, -0.9, -0.4, -0.25, 2.5, 2.58, 2.7, 2.49, 2.63, 2.82, 2.52, 2.75, 2.95, 2.54, 2.66, 3.1, 2.51, 2.88, -0.14, -0.17, -0.22, -0.13, -0.27, -0.19, -0.32, -0.15, -0.37, -0.24, -0.42, -0.16, -0.29, -0.47, -0.21, -0.34],
    [6.55, 6.0, 5.6, 5.5, 5.45, 5.4, 5.35, 5.3, 5.25, 5.4, 5.3, 5.25, 2.65, 2.6, 2.5, 2.4, 2.3, 2.2, 2.1, 2, 1.9, 1.8, 1.7, 1.6, 1.5, 1.4, 1.3, 1.2, 1.1, 1, 0.9, 0.6, 0.5, 0.4, 0.3, 0.2, 0.0, 0, 2.6, 2.4, 2.2, 2, 1.8, 5.24, 5.28, 5.23, 5.33, 5.26, 5.4, 5.25, 5.3, 2.66, 2.6, 2.52, 2.67, 2.44, 2.57, 2.35, 2.64, 2.28, 2.48, 2.2, 2.62, 2.4, 2.12],
    [5.55, 5.45, 5.3, 5.25, 5.2, 5.1, 4.9, 4.85, 4.7, 4.6, 4.5, 4.45, 4.4, 4.35, 4.3, 4.25, 4.2, 4.15, 4.1, 4.5, 4.35, 4.2, 4.15, 1.25, 1.2, 1.1, 1, 0.9, 0.8, 0.7, 0.6, 0.5, 0.4, 0.3, 0.2, 0.1, 1.2, 1, 0.8, 0.6, -1.3, -1.4, -1.5, -1.6, -1.85, 4.11, 4.18, 4.28, 4.1, 4.22, 4.4, 4.13, 4.32, 4.5, 4.15, 4.25, 4.6, 1.26, 1.2, 1.12, 1.27, 1.04, 1.17, 0.96, 1.24, 0.88, 1.08, 0.8, 1.22, 1.0, 0.72, 1.14, 0.92],
    [4, 3.9, 3.85, 3.8, 3.75, 3.7, 3.6, 3.5, 3.4, 3.3, 3.2, 3.1, 3.05, 3.3, 3.2, 3.15, 3.25, 3.1, -0.1, -0.15, -0.2, -0.1, -1.45, -0.3, 3.09, 3.14, 3.2, 3.08, 3.16, 3.28, 3.1, 3.22, 3.35, 3.12, 3.18, 3.45, -0.1, -0.13, -0.18, -0.09, -0.22, -0.15, -0.26, -0.11, -0.3, -0.19, -0.12, -0.24],
    [3.95, 3.7, 3.6, 3.55, 3.5, 3.45, 3.4, 3.35, 3.3, 3.2, 3.1, 3, 2.9, 2.8, 2.7, 2.6, 2.5, 2.4, 2.3, 2.2, 2.15, 3.2, 3, 2.8, 2.5, -0.2, -0.3, -0.4, -0.5, -0.6, -0.7, -0.8, -0.9, -1, -1.1, -1.3, -1.4, -1.8, -1.9, -2, -2.05, -2.1, -2.15, -2.2, -2.25, -2.3, -2.35, -2.4, -2.5, -2.55, -2.6, -2.7, 2.14, 2.22, 2.32, 2.13, 2.27, 2.45, 2.16, 2.38, 2.6, 2.18, 2.3, 2.75, 2.15, 2.52, 2.2, 2.35, 2.42, 2.24, -0.19, -0.24, -0.3, -0.18, -0.36, -0.26, -0.42, -0.21, -0.48, -0.33, -0.55, -0.22, -0.39, -0.62, -0.28, -0.45],
    [4.2, 3.95, 3.9, 3.8, 3.7, 3.5, 3.45, 3.3, 3.2, 3.15, 3.1, 3, 2.9, 2.8, 2.7, 2.6, 2.5, 2.45, 2.4, 3.2, 2.9, 2.6, -0.2, -0.3, -0.4, -0.5, -0.6, -0.7, -0.8, -0.85, -1.55, -1.7, -1.75, -1.9, -2, -2.4, -2.6, -2.7, -2.8, -2.9, -2.95, -3.0, -3.05, -2.65, -2.85, 2.39, 2.47, 2.57, 2.38, 2.52, 2.7, 2.41, 2.62, 2.85, 2.43, 2.55, 3, 2.4, 2.78, 2.45, 2.6, -0.19, -0.24, -0.3, -0.18, -0.36, -0.26, -0.42, -0.21, -0.48, -0.33, -0.55, -0.22, -0.39, -0.62, -0.28, -0.45],
    [3.65, 3.6, 3.55, 3.5, 3.4, 3.3, 3.2, 3.1, 3, 2.95, 2.9, 2.85, 2.8, 2.75, 2.7, 2.65, 2.6, 2.55, 2.5, 2.45, 2.4, 2.35, 2.3, 2.25, 2.2, 2.15, 2.1, 2.05, 2, 1.95, 1.9, 1.85, 2.8, 2.6, 2.4, 2.2, 2, 2.7, 2.3, 1.9, -0.2, -0.3, -0.4, -0.5, -0.6, -0.7, -3.2, 1.85, 1.92, 2.02, 1.84, 1.97, 2.15, 1.87, 2.08, 2.3, 1.89, 2, 2.45, 1.86, 2.22, 1.94, 2.12, -0.19, -0.24, -0.3, -0.18, -0.36, -0.26, -0.42, -0.21, -0.48, -0.33, -0.22, -0.39],
    [4.1, 4.05, 3.9, 2.7, 2.6, 2.55, 2.5, 2.45, 2.4, 2.3, 2.2, 2.15, 2.1, 2.05, 2, 1.95, 1.9, 1.85, 1.8, 1.75, 1.7, 1.65, 1.6, 1.55, 1.5, 1.45, 1.4, 1.35, 1.3, 1.25, 1.2, 1.15, 1.1, 1.05, 1, 0.95, 0.9, 0.85, 0.8, 0.75, 0.7, 0.65, 0.6, 0.55, 0.5, 0.45, 0.4, 0.35, 0.3, 0.25, 1.9, 1.8, 1.6, 1.5, 1.3, 1.1, 1, 0.8, 0.7, 0.5, 0.4, -0.2, -0.3, -0.4, -0.6, -0.7, -0.9, -2.45, -2.55, 1.7, 1.4, 1.2, 0.9, 0.6, 0.3, 0.35, 0.42, 0.28, 0.38, 0.5, 0.32, 0.45, 0.6, 0.34, 0.4, 0.7, 0.29, 0.55, 0.37, 0.47, -0.15, -0.12, -0.2, -0.14, -0.24, -0.17, -0.28, -0.13, -0.32],
    [3.9, 3.85, 3.8, 3.75, 3.4, 3.3, 3.2, 3, 2.8, 2.6, 2.5, 2.45, 2.3, 2.1, 2, 1.8, 1.7, 1.65, 1.6, 1.55, 1.5, 1.45, 1.4, 1.35, 1.3, 1.25, 1.2, 1.15, 1.1, 1.05, 1, 0.95, 0.9, 0.85, 0.8, 0.75, 0.7, 0.65, 0.6, 0.55, 0.5, 0.45, 0.4, 0.35, 0.4, 0.5, 0.6, 0.7, 0.8, 0.9, 1, 1.1, 1.2, 1.3, 1.4, 0.6, 0.7, 0.8, -0.1, -0.2, -0.3, -0.55, -1.4, -1.9, -2.2, -2.25, -2.25, -2.25, -2.2, 0.34, 0.38, 0.45, 0.33, 0.42, 0.5, 0.36, 0.48, 0.6, 0.37, 0.44, 0.55, -0.02, -0.06, -0.1, -0.01, -0.14, -0.08, -0.18, -0.04, -0.22],
    [2.85, 2.5, 2.35, 2.3, 2.2, 2.15, 2.1, 2.05, 1.95, 1.9, 1.85, 1.8, 1.8, 1.75, 1.7, 1.3, 1.25, 1.2, 1.0, 0.85, 0.8, 0.75, 0.7, 0.65, 0.6, 0.55, 0.5, 0.45, 0.4, 0, 0, 0, 0, 0, 0, 0],
]

# ---- helpers -------------------------------------------------------------
def dom_x(a, b):
    return [a / W, b / W]

def dom_y(top, bottom):
    return [1 - bottom / H, 1 - top / H]

def hex_rgb(c):
    return [int(c[i:i + 2], 16) for i in (1, 3, 5)]

def shade(v, rng):
    t = max(0, min(1, (v - rng[0]) / (rng[1] - rng[0])))
    if t < 0.55:
        a, b, u = SCALE_STOPS[0], SCALE_STOPS[1], t / 0.55
    else:
        a, b, u = SCALE_STOPS[1], SCALE_STOPS[2], (t - 0.55) / 0.45
    ra, rb = hex_rgb(a), hex_rgb(b)
    return "rgb(%d,%d,%d)" % tuple(ra[i] + (rb[i] - ra[i]) * u for i in range(3))

fig = go.Figure()
AX_LINE = dict(showline=True, linecolor="#333333", linewidth=1.4, showgrid=False, zeroline=False,
               ticks="outside", tickcolor="#333333", tickwidth=1.2, ticklen=4,
               color=TXT, mirror=False)
CSCALE = [[0, SCALE_STOPS[0]], [0.55, SCALE_STOPS[1]], [1, SCALE_STOPS[2]]]

umap_panels = [
    ("", 48.7, 241.7, 28, 233.7, [-14.08, 10.3], [-14.26, 12.3], LEVELS_PRSS1, SPECK_PRSS1, GRAIN_T, PRSS1_RANGE, PRSS1_TICKS, 89.3, 182),
    ("2", 49.3, 242.3, 310, 515.3, [-14.2, 10.3], [-13.96, 12.5], LEVELS_PNLIP, SPECK_PNLIP, GRAIN_T, PNLIP_RANGE, PNLIP_TICKS, 371, 465),
    ("3", 49.7, 242.7, 591.7, 796.7, [-14.2, 10.25], [-14.2, 12.2], LEVELS_AMY2B, SPECK_AMY2B, GRAIN_T_AMY2B, AMY2B_RANGE, AMY2B_TICKS, 651.7, 745.7),
]
for suf, l, r, t, b, xr, yr, levels, speck, grain, rng, cticks, bt, bb in umap_panels:
    for rx, ry, lv in zip(REGIONS_X, REGIONS_Y, levels):
        fig.add_trace(go.Scatter(x=rx, y=ry, mode="lines", fill="toself", fillcolor=shade(lv, rng),
                                 line=dict(width=1.2, color=shade(lv, rng)), hoverinfo="skip",
                                 showlegend=False, xaxis="x" + suf, yaxis="y" + suf))
    fig.add_trace(go.Scatter(x=GAP_X, y=GAP_Y, mode="markers", marker=dict(size=1.8, color="white"),
                             showlegend=False, hoverinfo="skip", xaxis="x" + suf, yaxis="y" + suf))
    fig.add_trace(go.Scatter(
        x=GRAIN_X, y=GRAIN_Y, mode="markers", showlegend=False, xaxis="x" + suf, yaxis="y" + suf,
        marker=dict(size=3.4, color=grain, cmin=0, cmax=1, colorscale=CSCALE)))
    fig.add_trace(go.Scatter(
        x=SPECK_X, y=SPECK_Y, mode="markers", xaxis="x" + suf, yaxis="y" + suf, showlegend=False,
        marker=dict(size=2.6, color=speck, cmin=rng[0], cmax=rng[1], colorscale=CSCALE,
                    colorbar=dict(x=251.7 / W, xanchor="left", xref="paper", yref="paper",
                                  y=1 - bb / H, yanchor="bottom", len=(bb - bt) / H, lenmode="fraction",
                                  thickness=15.6, thicknessmode="pixels", xpad=0, ypad=0,
                                  outlinewidth=0, tickvals=cticks, ticks="inside", ticklen=6,
                                  tickcolor="rgba(255,255,255,0.55)", tickwidth=1,
                                  tickfont=dict(family=FONT, size=12.6, color=TXT)))))
    fig.update_layout({
        "xaxis" + suf: dict(AX_LINE, domain=dom_x(l, r), range=xr, tickvals=[-10, -5, 0, 5, 10],
                            anchor="y" + suf, tickfont=dict(family=FONT, size=12.6, color=TXT),
                            title=dict(text="UMAP 1", standoff=5, font=dict(family=FONT, size=12.6, color=TXT))),
        "yaxis" + suf: dict(AX_LINE, domain=dom_y(t, b), range=yr, tickvals=[-10, -5, 0, 5, 10],
                            anchor="x" + suf, tickfont=dict(family=FONT, size=12.6, color=TXT),
                            title=dict(text="UMAP 2", standoff=5, font=dict(family=FONT, size=12.6, color=TXT))),
    })

violin_panels = [
    ("4", 32, 236, [-2.99, 9.64], [0, 3, 6, 9], ["0", "3", "6", "9"], PRSS1_LO, PRSS1_HI, PRSS1_VMIN, PRSS1_VMAX, NO_ZERO,
     [(8, PRSS1_SM_Y, PRSS1_SM_W), (9, PRSS1_IS_Y, PRSS1_IS_W), (10, PRSS1_MA_Y, PRSS1_MA_W)],
     PRSS1_ACC_C, PRSS1_ACC_LO, PRSS1_ACC_HI, PRSS1_ACC_W, PRSS1_PTS, False),
    ("5", 313.3, 517, [-1.77, 9.2], [0, 2, 4, 6, 8], ["0", "2", "4", "6", "8"], PNLIP_LO, PNLIP_HI, PNLIP_VMIN, PNLIP_VMAX, PNLIP_ZERO,
     [(8, PNLIP_SM_Y, PNLIP_SM_W), (9, PNLIP_IS_Y, PNLIP_IS_W), (10, PNLIP_MA_Y, PNLIP_MA_W)],
     PNLIP_ACC_C, PNLIP_ACC_LO, PNLIP_ACC_HI, PNLIP_ACC_W, PNLIP_PTS, False),
    ("6", 595.7, 799, [-3.64, 6.9], [-2.5, 0, 2.5, 5], ["-2.5", "0", "2.5", "5.0"], AMY2B_LO, AMY2B_HI, AMY2B_VMIN, AMY2B_VMAX, AMY2B_ZERO,
     [(8, AMY2B_SM_Y, AMY2B_SM_W), (9, AMY2B_IS_Y, AMY2B_IS_W), (10, AMY2B_MA_Y, AMY2B_MA_W)],
     AMY2B_ACC_C, AMY2B_ACC_LO, AMY2B_ACC_HI, AMY2B_ACC_W, AMY2B_PTS, True),
]
BODY_HALF = 0.43
for suf, t, b, yr, yt, ytl, lo, hi, vmin, vmax, zero, vio, ac, al, ah, aw, pts, labelled in violin_panels:
    ax = dict(xaxis="x" + suf, yaxis="y" + suf, showlegend=False, hoverinfo="skip")
    lx, ly = [], []
    for i in range(11):
        lx += [i, i, None]
        ly += [vmin[i], vmax[i], None]
    fig.add_trace(go.Scatter(x=lx, y=ly, mode="lines", line=dict(color="#666666", width=1), **ax))
    for c, ys, ws in vio:
        px = [c + w for w in ws] + [c - w for w in reversed(ws)]
        py = list(ys) + list(reversed(ys))
        fig.add_trace(go.Scatter(x=px, y=py, mode="lines", fill="toself", fillcolor=CLUSTER_COLORS[c],
                                 line=dict(color="#777777", width=0.6), **ax))
    bx, by = [], []
    for i in range(11):
        if lo[i] is not None:
            bx += [i - BODY_HALF, i + BODY_HALF, i + BODY_HALF, i - BODY_HALF, i - BODY_HALF, None]
            by += [lo[i], lo[i], hi[i], hi[i], lo[i], None]
    fig.add_trace(go.Scatter(x=bx, y=by, mode="lines", fill="toself", fillcolor="#000000",
                             line=dict(color="#000000", width=1.5), **ax))
    zx, zy = [], []
    for i, hw in enumerate(zero):
        if hw:
            zx += [i - hw, i + hw, None]
            zy += [0, 0, None]
    if zx:
        fig.add_trace(go.Scatter(x=zx, y=zy, mode="lines", line=dict(color="#000000", width=3), **ax))
    for c, a0, a1, w in zip(ac, al, ah, aw):
        m = (a0 + a1) / 2
        fig.add_trace(go.Scatter(x=[c, c + w, c, c - w, c], y=[a0, m, a1, m, a0], mode="lines", fill="toself",
                                 fillcolor=CLUSTER_COLORS[c], line=dict(color=CLUSTER_COLORS[c], width=0.5), **ax))
    if labelled:
        fig.add_trace(go.Scatter(x=AMY2B_GAP_C, y=AMY2B_GAP_V, mode="markers",
                                 marker=dict(color="white", size=1.6), **ax))
    sx, sy = [], []
    for i, vals in enumerate(pts):
        for j, v in enumerate(vals):
            sx.append(i + JITTER[(j + 5 * i) % len(JITTER)])
            sy.append(v)
    fig.add_trace(go.Scatter(x=sx, y=sy, mode="markers", marker=dict(color="#000000", size=3.2), **ax))
    fig.update_layout({
        "xaxis" + suf: dict(AX_LINE, domain=dom_x(361, W), range=[-0.6, 10.53], tickvals=list(range(11)),
                            ticktext=[""] * 11, anchor="y" + suf),
        "yaxis" + suf: dict(AX_LINE, domain=dom_y(t, b), range=yr, tickvals=yt, ticktext=ytl, anchor="x" + suf,
                            tickfont=dict(family=FONT, size=14.4, color=TXT)),
    })

for i, name in enumerate(CLUSTERS):
    fig.add_annotation(text=name, x=i, xref="x6", y=1 - 806.5 / H, yref="paper", showarrow=False, textangle=-90,
                       xanchor="center", yanchor="top", font=dict(family=FONT, size=14.6, color=TXT))
fig.add_annotation(text="Cell Cluster", x=569 / W, y=1 - 913 / H, xref="paper", yref="paper", showarrow=False,
                   xanchor="center", yanchor="middle", font=dict(family=FONT, size=14.6, color=TXT))

ANN_TEXT = ["<i>PRSS1</i>", "<i>PNLIP</i>", "<i>AMY2B</i>", "<b>A</b>", "<b>B</b>", "<b>C</b>", "<b>D</b>", "<b>E</b>", "<b>F</b>"]
ANN_X = [334, 331, 333, 7.5, 321, 7, 321, 7, 320]
ANN_Y = [11.5, 294, 574, 32, 32, 317, 317.5, 597, 597]
ANN_SIZE = [17.5, 18.5, 18.5, 18, 18, 18, 18, 18, 18]
for s, x, y, z in zip(ANN_TEXT, ANN_X, ANN_Y, ANN_SIZE):
    fig.add_annotation(text=s, x=x / W, y=1 - y / H, xref="paper", yref="paper", showarrow=False,
                       xanchor="center", yanchor="middle",
                       font=dict(family=FONT, size=z, color="#222222" if "<i>" in s else "#000000"))
YTITLE_Y = [134, 415, 703]
for y in YTITLE_Y:
    fig.add_annotation(text="Expression Level", x=323 / W, y=1 - y / H, xref="paper", yref="paper",
                       showarrow=False, textangle=-90, xanchor="center", yanchor="middle",
                       font=dict(family=FONT, size=14.6, color=TXT))

fig.update_layout(width=W, height=H, autosize=False, margin=dict(l=0, r=0, t=0, b=0, pad=0),
                  paper_bgcolor="white", plot_bgcolor="white", showlegend=False,
                  font=dict(family=FONT, color=TXT))

fig.write_html("out.html", config={"displayModeBar": False}, post_script="document.body.style.margin='0';")
